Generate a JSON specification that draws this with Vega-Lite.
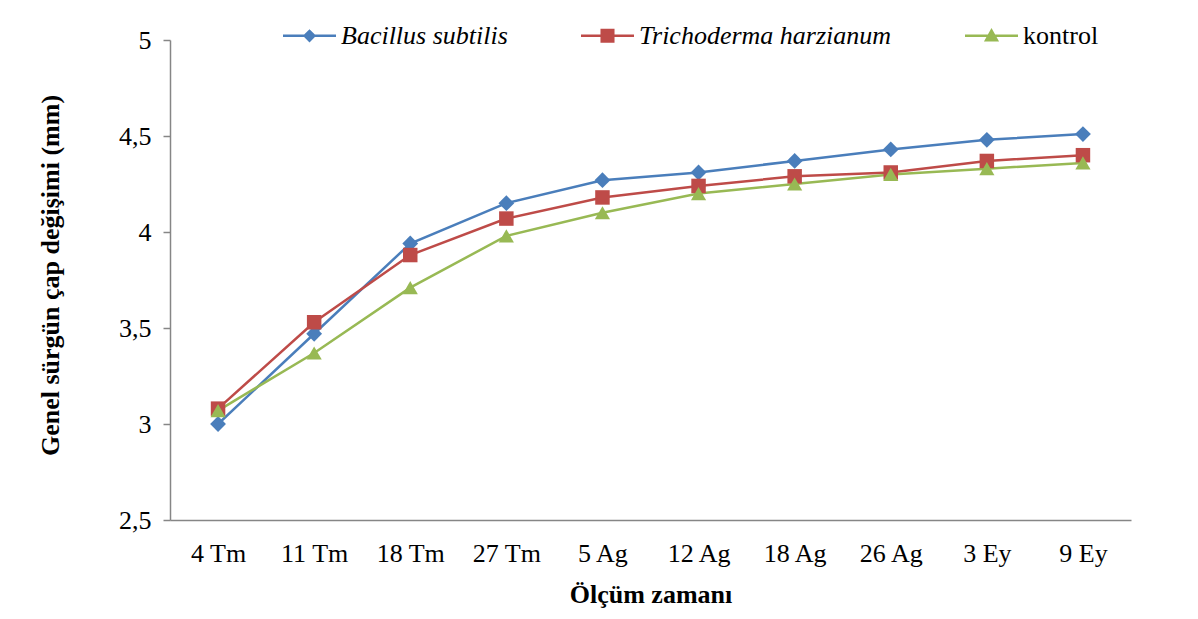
{
  "$schema": "https://vega.github.io/schema/vega-lite/v6.json",
  "width": 961,
  "height": 480,
  "autosize": {"type": "none"},
  "padding": {"left": 170, "top": 40, "right": 67, "bottom": 99},
  "background": "white",
  "config": {
    "view": {"stroke": null},
    "font": "Liberation Serif",
    "axis": {
      "domainColor": "#868686",
      "domainWidth": 1.5,
      "tickColor": "#868686",
      "tickWidth": 1.5,
      "grid": false,
      "labelFont": "Liberation Serif",
      "labelFontSize": 26,
      "labelColor": "#000000",
      "titleFont": "Liberation Serif",
      "titleFontSize": 26,
      "titleFontWeight": "bold",
      "titleColor": "#000000"
    },
    "legend": {
      "labelFont": "Liberation Serif",
      "labelFontSize": 26,
      "labelColor": "#000000",
      "labelLimit": 0,
      "labelOffset": 5,
      "symbolSize": 2809,
      "symbolStrokeWidth": 0,
      "columnPadding": 73
    }
  },
  "data": {
    "values": [
      {"zaman": "4 Tm", "seri": "Bacillus subtilis", "cap": 3.0},
      {"zaman": "11 Tm", "seri": "Bacillus subtilis", "cap": 3.47},
      {"zaman": "18 Tm", "seri": "Bacillus subtilis", "cap": 3.94},
      {"zaman": "27 Tm", "seri": "Bacillus subtilis", "cap": 4.15},
      {"zaman": "5 Ag", "seri": "Bacillus subtilis", "cap": 4.27},
      {"zaman": "12 Ag", "seri": "Bacillus subtilis", "cap": 4.31},
      {"zaman": "18 Ag", "seri": "Bacillus subtilis", "cap": 4.37},
      {"zaman": "26 Ag", "seri": "Bacillus subtilis", "cap": 4.43},
      {"zaman": "3 Ey", "seri": "Bacillus subtilis", "cap": 4.48},
      {"zaman": "9 Ey", "seri": "Bacillus subtilis", "cap": 4.51},
      {"zaman": "4 Tm", "seri": "Trichoderma harzianum", "cap": 3.08},
      {"zaman": "11 Tm", "seri": "Trichoderma harzianum", "cap": 3.53},
      {"zaman": "18 Tm", "seri": "Trichoderma harzianum", "cap": 3.88},
      {"zaman": "27 Tm", "seri": "Trichoderma harzianum", "cap": 4.07},
      {"zaman": "5 Ag", "seri": "Trichoderma harzianum", "cap": 4.18},
      {"zaman": "12 Ag", "seri": "Trichoderma harzianum", "cap": 4.24},
      {"zaman": "18 Ag", "seri": "Trichoderma harzianum", "cap": 4.29},
      {"zaman": "26 Ag", "seri": "Trichoderma harzianum", "cap": 4.31},
      {"zaman": "3 Ey", "seri": "Trichoderma harzianum", "cap": 4.37},
      {"zaman": "9 Ey", "seri": "Trichoderma harzianum", "cap": 4.4},
      {"zaman": "4 Tm", "seri": "kontrol", "cap": 3.07},
      {"zaman": "11 Tm", "seri": "kontrol", "cap": 3.37},
      {"zaman": "18 Tm", "seri": "kontrol", "cap": 3.71},
      {"zaman": "27 Tm", "seri": "kontrol", "cap": 3.98},
      {"zaman": "5 Ag", "seri": "kontrol", "cap": 4.1},
      {"zaman": "12 Ag", "seri": "kontrol", "cap": 4.2},
      {"zaman": "18 Ag", "seri": "kontrol", "cap": 4.25},
      {"zaman": "26 Ag", "seri": "kontrol", "cap": 4.3},
      {"zaman": "3 Ey", "seri": "kontrol", "cap": 4.33},
      {"zaman": "9 Ey", "seri": "kontrol", "cap": 4.36}
    ]
  },
  "encoding": {
    "x": {
      "field": "zaman",
      "type": "ordinal",
      "sort": ["4 Tm", "11 Tm", "18 Tm", "27 Tm", "5 Ag", "12 Ag", "18 Ag", "26 Ag", "3 Ey", "9 Ey"],
      "scale": {"type": "point", "padding": 0.5},
      "axis": {
        "title": "Ölçüm zamanı",
        "labelAngle": 0,
        "ticks": false,
        "labelPadding": 20,
        "titlePadding": 15
      }
    },
    "y": {
      "field": "cap",
      "type": "quantitative",
      "scale": {"domain": [2.5, 5], "nice": false, "zero": false},
      "axis": {
        "title": "Genel sürgün çap değişimi (mm)",
        "values": [2.5, 3, 3.5, 4, 4.5, 5],
        "labelExpr": "replace(toString(datum.value), '.', ',')",
        "tickSize": 7,
        "labelPadding": 12,
        "titlePadding": 55,
        "titleY": 235
      }
    },
    "color": {
      "field": "seri",
      "type": "nominal",
      "scale": {
        "domain": ["Bacillus subtilis", "Trichoderma harzianum", "kontrol"],
        "range": ["#4A7EBB", "#BE4B48", "#98B954"]
      },
      "legend": {
        "title": null,
        "orient": "none",
        "direction": "horizontal",
        "legendX": 113,
        "legendY": -31,
        "symbolSize": 2809,
        "symbolStrokeWidth": 0,
        "labelLimit": 0,
        "labelFont": "Liberation Serif",
        "labelFontSize": 26,
        "labelOffset": 5,
        "columnPadding": 73,
        "encode": {
          "labels": {
            "update": {
              "font": {"value": "Liberation Serif"},
              "fontSize": {"value": 26},
              "fill": {"value": "#000000"},
              "fontStyle": {"signal": "datum.value === 'kontrol' ? 'normal' : 'italic'"}
            }
          }
        }
      }
    }
  },
  "layer": [
    {
      "mark": {"type": "line", "strokeWidth": 2.5}
    },
    {
      "transform": [{"filter": "false"}],
      "mark": {"type": "point", "filled": true, "opacity": 1},
      "encoding": {
        "shape": {
          "field": "seri",
          "type": "nominal",
          "scale": {
            "domain": ["Bacillus subtilis", "Trichoderma harzianum", "kontrol"],
            "range": [
              "M-1,-0.047L1,-0.047L1,0.047L-1,0.047Z M0,-0.25L0.25,0L0,0.25L-0.25,0Z",
              "M-1,-0.047L1,-0.047L1,0.047L-1,0.047Z M-0.265,-0.265L0.265,-0.265L0.265,0.265L-0.265,0.265Z",
              "M-1,-0.047L1,-0.047L1,0.047L-1,0.047Z M0,-0.29L0.285,0.22L-0.285,0.22Z"
            ]
          }
        }
      }
    },
    {
      "transform": [{"filter": "datum.seri === 'Bacillus subtilis'"}],
      "mark": {"type": "point", "filled": true, "opacity": 1, "shape": "diamond", "size": 250},
      "encoding": {"color": {"value": "#4A7EBB"}}
    },
    {
      "transform": [{"filter": "datum.seri === 'Trichoderma harzianum'"}],
      "mark": {"type": "point", "filled": true, "opacity": 1, "shape": "square", "size": 210},
      "encoding": {"color": {"value": "#BE4B48"}}
    },
    {
      "transform": [{"filter": "datum.seri === 'kontrol'"}],
      "mark": {"type": "point", "filled": true, "opacity": 1, "shape": "triangle-up", "size": 230},
      "encoding": {"color": {"value": "#98B954"}}
    }
  ]
}
